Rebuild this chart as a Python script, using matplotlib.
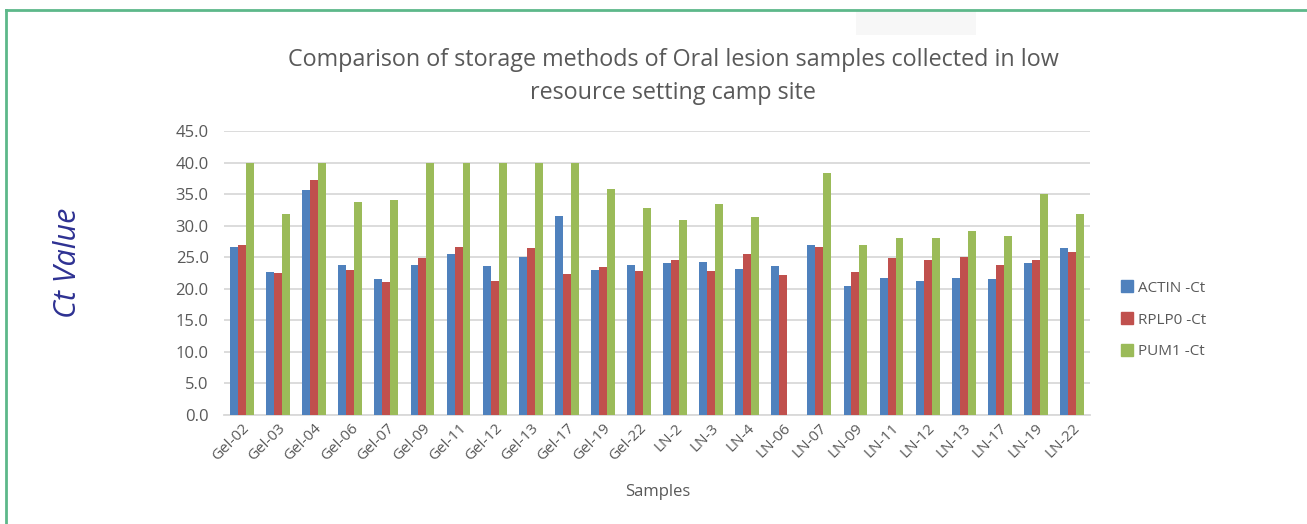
import matplotlib
matplotlib.use("Agg")
import matplotlib.pyplot as plt
from matplotlib.lines import Line2D
from matplotlib.patches import Rectangle
import numpy as np

samples = ["Gel-02", "Gel-03", "Gel-04", "Gel-06", "Gel-07", "Gel-09", "Gel-11", "Gel-12",
           "Gel-13", "Gel-17", "Gel-19", "Gel-22", "LN-2", "LN-3", "LN-4", "LN-06", "LN-07",
           "LN-09", "LN-11", "LN-12", "LN-13", "LN-17", "LN-19", "LN-22"]
actin = [26.6, 22.7, 35.6, 23.7, 21.6, 23.8, 25.5, 23.6, 25.0, 31.5, 22.9, 23.7,
         24.1, 24.3, 23.1, 23.6, 26.9, 20.5, 21.7, 21.2, 21.7, 21.5, 24.1, 26.4]
rplp0 = [26.9, 22.5, 37.3, 23.0, 21.0, 24.9, 26.6, 21.2, 26.4, 22.4, 23.4, 22.8,
         24.5, 22.8, 25.5, 22.2, 26.6, 22.7, 24.9, 24.5, 25.0, 23.7, 24.5, 25.9]
pum1 = [40.0, 31.9, 40.0, 33.7, 34.0, 40.0, 40.0, 40.0, 40.0, 40.0, 35.8, 32.8,
        30.9, 33.4, 31.3, 0.0, 38.3, 26.9, 28.0, 28.0, 29.2, 28.3, 35.0, 31.8]
series_names = ["ACTIN -Ct", "RPLP0 -Ct", "PUM1 -Ct"]
colors = ["#4F81BD", "#C0504D", "#9BBB59"]
yticks = [0, 5, 10, 15, 20, 25, 30, 35, 40, 45]

plt.rcParams['font.family'] = ['Open Sans', 'DejaVu Sans']

W, H = 1307, 524
fig = plt.figure(figsize=(W / 100, H / 100), dpi=100)
ax = fig.add_axes([224 / W, 1 - 415 / H, (1090 - 224) / W, (415 - 131) / H])

x = np.arange(len(samples))
bw = 0.22
for i, (vals, c) in enumerate(zip([actin, rplp0, pum1], colors)):
    ax.bar(x + (i - 1) * bw, vals, bw, color=c, label=series_names[i], zorder=3)

ax.set_xlim(-0.5, len(samples) - 0.5)
ax.set_ylim(0, 45)
ax.set_yticks(yticks)
ax.set_yticklabels([f"{v:.1f}" for v in yticks], color="#595959", fontsize=12)
ax.yaxis.grid(True, color="#D9D9D9", linewidth=1.3, zorder=0)
ax.set_xticks(x)
ax.set_xticklabels(samples, rotation=45, ha="right", rotation_mode="anchor",
                   color="#595959", fontsize=11)
ax.tick_params(axis="y", length=0, pad=11)
ax.tick_params(axis="x", length=0, pad=4)
for s in ["top", "right", "left"]:
    ax.spines[s].set_visible(False)
ax.spines["bottom"].set_color("#D9D9D9")
ax.spines["bottom"].set_linewidth(1.3)

fig.text(673 / W, 1 - 60 / H,
         "Comparison of storage methods of Oral lesion samples collected in low",
         ha="center", va="center", fontsize=16.8, color="#595959")
fig.text(673 / W, 1 - 93 / H, "resource setting camp site",
         ha="center", va="center", fontsize=16.8, color="#595959")
fig.text(658 / W, 1 - 492 / H, "Samples", ha="center", va="center",
         fontsize=12, color="#595959")
fig.text(68 / W, 1 - 263 / H, "Ct Value", ha="center", va="center", rotation=90,
         fontsize=22, style="italic", color="#2E3192")

handles = [Line2D([], [], marker="s", linestyle="none", markersize=8,
                  markerfacecolor=c, markeredgecolor=c) for c in colors]
leg = fig.legend(handles, series_names, loc="center left",
                 bbox_to_anchor=(1106 / W, 1 - 320 / H), frameon=False,
                 fontsize=11, handletextpad=0.2, labelspacing=1.1,
                 handlelength=1.0)
for t in leg.get_texts():
    t.set_color("#595959")

# green frame
fig.add_artist(Line2D([6 / W, 1], [1 - 10 / H, 1 - 10 / H], color="#5DB88A",
                      linewidth=2, transform=fig.transFigure))
fig.add_artist(Line2D([6 / W, 6 / W], [0, 1 - 10 / H], color="#5DB88A",
                      linewidth=2, transform=fig.transFigure))
# faint artifact at top
fig.add_artist(Rectangle((856 / W, 1 - 35 / H), 120 / W, 25 / H,
                         facecolor="#F7F7F7", edgecolor="none",
                         transform=fig.transFigure, zorder=0))

fig.savefig("out.png", dpi=100)
